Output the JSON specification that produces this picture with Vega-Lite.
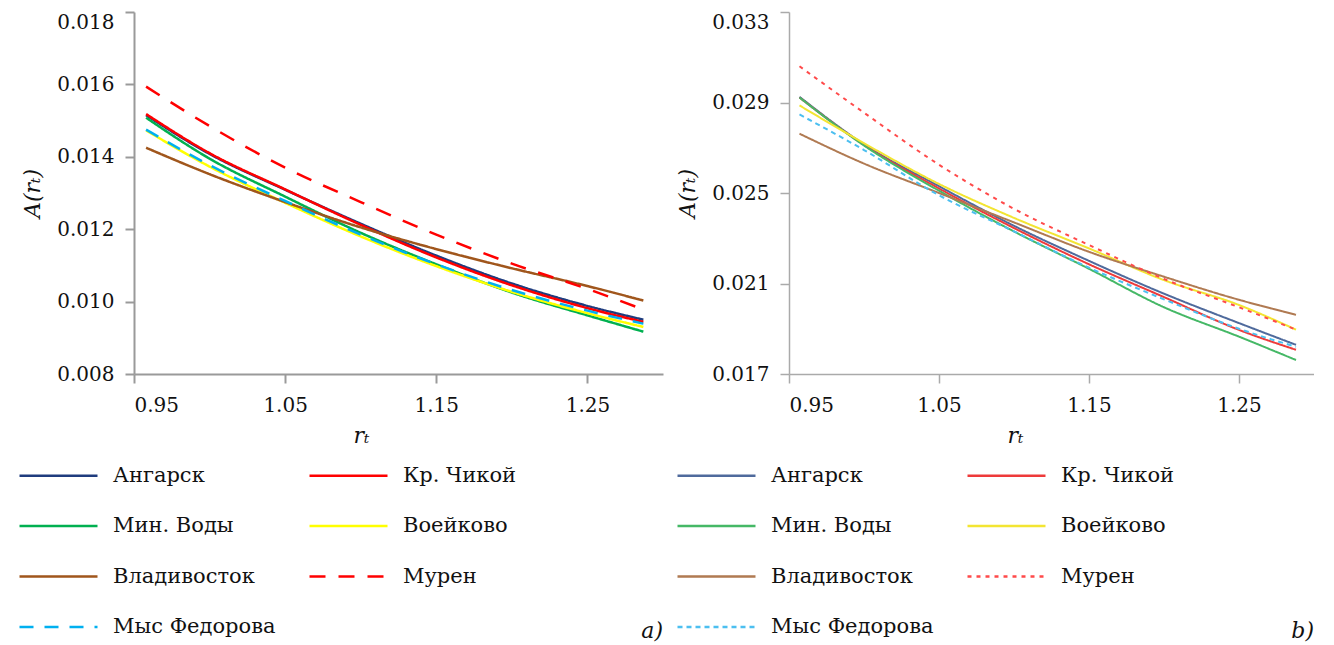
{
  "$schema": "https://vega.github.io/schema/vega-lite/v6.json",
  "background": "white",
  "padding": {"left": 21, "top": 11, "right": 0, "bottom": 0},
  "spacing": 13,
  "config": {
    "view": {"stroke": null},
    "font": "DejaVu Serif",
    "axis": {
      "grid": false,
      "labelFont": "DejaVu Serif",
      "labelFontSize": 20,
      "labelColor": "#111111",
      "titleFont": "DejaVu Serif",
      "titleFontSize": 22,
      "titleFontStyle": "italic",
      "titleFontWeight": "normal",
      "titleColor": "#111111",
      "tickSize": 9,
      "domainColor": "#9a9a9a",
      "tickColor": "#9a9a9a"
    },
    "legend": {
      "labelFont": "DejaVu Serif"
    }
  },
  "datasets": {
    "a": [
      {"station": "Ангарск", "r": 0.958, "A": 0.01515}, {"station": "Ангарск", "r": 1.0, "A": 0.01408}, {"station": "Ангарск", "r": 1.05, "A": 0.01309}, {"station": "Ангарск", "r": 1.1, "A": 0.01215}, {"station": "Ангарск", "r": 1.15, "A": 0.01127}, {"station": "Ангарск", "r": 1.2, "A": 0.0105}, {"station": "Ангарск", "r": 1.25, "A": 0.00988}, {"station": "Ангарск", "r": 1.287, "A": 0.0095},
      {"station": "Кр. Чикой", "r": 0.958, "A": 0.01518}, {"station": "Кр. Чикой", "r": 1.0, "A": 0.0141}, {"station": "Кр. Чикой", "r": 1.05, "A": 0.0131}, {"station": "Кр. Чикой", "r": 1.1, "A": 0.01212}, {"station": "Кр. Чикой", "r": 1.15, "A": 0.01122}, {"station": "Кр. Чикой", "r": 1.2, "A": 0.01045}, {"station": "Кр. Чикой", "r": 1.25, "A": 0.00982}, {"station": "Кр. Чикой", "r": 1.287, "A": 0.00944},
      {"station": "Мин. Воды", "r": 0.958, "A": 0.01508}, {"station": "Мин. Воды", "r": 1.0, "A": 0.01395}, {"station": "Мин. Воды", "r": 1.05, "A": 0.0129}, {"station": "Мин. Воды", "r": 1.1, "A": 0.0119}, {"station": "Мин. Воды", "r": 1.15, "A": 0.01103}, {"station": "Мин. Воды", "r": 1.2, "A": 0.01025}, {"station": "Мин. Воды", "r": 1.25, "A": 0.00962}, {"station": "Мин. Воды", "r": 1.287, "A": 0.00917},
      {"station": "Воейково", "r": 0.958, "A": 0.01473}, {"station": "Воейково", "r": 1.0, "A": 0.01373}, {"station": "Воейково", "r": 1.05, "A": 0.01273}, {"station": "Воейково", "r": 1.1, "A": 0.0118}, {"station": "Воейково", "r": 1.15, "A": 0.01098}, {"station": "Воейково", "r": 1.2, "A": 0.01027}, {"station": "Воейково", "r": 1.25, "A": 0.00968}, {"station": "Воейково", "r": 1.287, "A": 0.0093},
      {"station": "Владивосток", "r": 0.958, "A": 0.01425}, {"station": "Владивосток", "r": 1.0, "A": 0.01352}, {"station": "Владивосток", "r": 1.05, "A": 0.01275}, {"station": "Владивосток", "r": 1.1, "A": 0.01205}, {"station": "Владивосток", "r": 1.15, "A": 0.01145}, {"station": "Владивосток", "r": 1.2, "A": 0.01092}, {"station": "Владивосток", "r": 1.25, "A": 0.01043}, {"station": "Владивосток", "r": 1.287, "A": 0.01003},
      {"station": "Мурен", "r": 0.958, "A": 0.01594}, {"station": "Мурен", "r": 1.0, "A": 0.01485}, {"station": "Мурен", "r": 1.05, "A": 0.0137}, {"station": "Мурен", "r": 1.1, "A": 0.01275}, {"station": "Мурен", "r": 1.15, "A": 0.01185}, {"station": "Мурен", "r": 1.2, "A": 0.01105}, {"station": "Мурен", "r": 1.25, "A": 0.01035}, {"station": "Мурен", "r": 1.287, "A": 0.00978},
      {"station": "Мыс Федорова", "r": 0.958, "A": 0.01475}, {"station": "Мыс Федорова", "r": 1.0, "A": 0.01377}, {"station": "Мыс Федорова", "r": 1.05, "A": 0.01278}, {"station": "Мыс Федорова", "r": 1.1, "A": 0.01185}, {"station": "Мыс Федорова", "r": 1.15, "A": 0.01103}, {"station": "Мыс Федорова", "r": 1.2, "A": 0.01032}, {"station": "Мыс Федорова", "r": 1.25, "A": 0.00975}, {"station": "Мыс Федорова", "r": 1.287, "A": 0.00939}
    ],
    "b": [
      {"station": "Ангарск", "r": 0.957, "A": 0.02925}, {"station": "Ангарск", "r": 1.0, "A": 0.02715}, {"station": "Ангарск", "r": 1.05, "A": 0.0253}, {"station": "Ангарск", "r": 1.1, "A": 0.02355}, {"station": "Ангарск", "r": 1.15, "A": 0.022}, {"station": "Ангарск", "r": 1.2, "A": 0.02055}, {"station": "Ангарск", "r": 1.25, "A": 0.01925}, {"station": "Ангарск", "r": 1.288, "A": 0.01829},
      {"station": "Кр. Чикой", "r": 0.957, "A": 0.02922}, {"station": "Кр. Чикой", "r": 1.0, "A": 0.02712}, {"station": "Кр. Чикой", "r": 1.05, "A": 0.0252}, {"station": "Кр. Чикой", "r": 1.1, "A": 0.02345}, {"station": "Кр. Чикой", "r": 1.15, "A": 0.02185}, {"station": "Кр. Чикой", "r": 1.2, "A": 0.0204}, {"station": "Кр. Чикой", "r": 1.25, "A": 0.01895}, {"station": "Кр. Чикой", "r": 1.288, "A": 0.01807},
      {"station": "Мин. Воды", "r": 0.957, "A": 0.02922}, {"station": "Мин. Воды", "r": 1.0, "A": 0.0271}, {"station": "Мин. Воды", "r": 1.05, "A": 0.0251}, {"station": "Мин. Воды", "r": 1.1, "A": 0.0233}, {"station": "Мин. Воды", "r": 1.15, "A": 0.02165}, {"station": "Мин. Воды", "r": 1.2, "A": 0.01995}, {"station": "Мин. Воды", "r": 1.25, "A": 0.01865}, {"station": "Мин. Воды", "r": 1.288, "A": 0.01762},
      {"station": "Воейково", "r": 0.957, "A": 0.02887}, {"station": "Воейково", "r": 1.0, "A": 0.0272}, {"station": "Воейково", "r": 1.05, "A": 0.0254}, {"station": "Воейково", "r": 1.1, "A": 0.0239}, {"station": "Воейково", "r": 1.15, "A": 0.02255}, {"station": "Воейково", "r": 1.2, "A": 0.02115}, {"station": "Воейково", "r": 1.25, "A": 0.02005}, {"station": "Воейково", "r": 1.288, "A": 0.01896},
      {"station": "Владивосток", "r": 0.957, "A": 0.02762}, {"station": "Владивосток", "r": 1.0, "A": 0.0263}, {"station": "Владивосток", "r": 1.05, "A": 0.025}, {"station": "Владивосток", "r": 1.1, "A": 0.0237}, {"station": "Владивосток", "r": 1.15, "A": 0.0224}, {"station": "Владивосток", "r": 1.2, "A": 0.0213}, {"station": "Владивосток", "r": 1.25, "A": 0.02028}, {"station": "Владивосток", "r": 1.288, "A": 0.01962},
      {"station": "Мурен", "r": 0.957, "A": 0.0306}, {"station": "Мурен", "r": 1.0, "A": 0.02855}, {"station": "Мурен", "r": 1.05, "A": 0.02625}, {"station": "Мурен", "r": 1.1, "A": 0.0243}, {"station": "Мурен", "r": 1.15, "A": 0.0227}, {"station": "Мурен", "r": 1.2, "A": 0.0212}, {"station": "Мурен", "r": 1.25, "A": 0.01995}, {"station": "Мурен", "r": 1.288, "A": 0.01896},
      {"station": "Мыс Федорова", "r": 0.957, "A": 0.02847}, {"station": "Мыс Федорова", "r": 1.0, "A": 0.0269}, {"station": "Мыс Федорова", "r": 1.05, "A": 0.0249}, {"station": "Мыс Федорова", "r": 1.1, "A": 0.0233}, {"station": "Мыс Федорова", "r": 1.15, "A": 0.0217}, {"station": "Мыс Федорова", "r": 1.2, "A": 0.0203}, {"station": "Мыс Федорова", "r": 1.25, "A": 0.019}, {"station": "Мыс Федорова", "r": 1.288, "A": 0.0182}
    ]
  },
  "resolve": {
    "scale": {"x": "independent", "y": "independent", "color": "independent", "strokeDash": "independent"},
    "legend": {"color": "independent", "strokeDash": "independent"}
  },
  "hconcat": [
    {
      "width": 529,
      "height": 362,
      "data": {"name": "a"},
      "title": {"text": "a)", "orient": "bottom", "anchor": "end", "offset": -16, "font": "DejaVu Serif", "fontSize": 22, "fontStyle": "italic", "fontWeight": "normal", "color": "#111111"},
      "mark": {"type": "line", "strokeWidth": 2.5, "interpolate": "monotone"},
      "encoding": {
        "x": {
          "field": "r", "type": "quantitative",
          "scale": {"domain": [0.95, 1.3], "nice": false, "zero": false},
          "axis": {"values": [0.95, 1.05, 1.15, 1.25], "format": ".2f", "labelFlush": true, "labelPadding": 12, "title": "rₜ", "titleX": 227, "titlePadding": 10, "domainWidth": 2, "tickWidth": 2}
        },
        "y": {
          "field": "A", "type": "quantitative",
          "scale": {"domain": [0.008, 0.018], "nice": false, "zero": false},
          "axis": {"values": [0.008, 0.01, 0.012, 0.014, 0.016, 0.018], "format": ".3f", "labelPadding": 11, "labelBaseline": {"condition": {"test": "datum.value > 0.0175", "value": "top"}, "value": "middle"}, "title": "A(rₜ)", "titlePadding": 12, "domainWidth": 2, "tickWidth": 2}
        },
        "color": {
          "field": "station", "type": "nominal",
          "scale": {"domain": ["Ангарск", "Кр. Чикой", "Мин. Воды", "Воейково", "Владивосток", "Мурен", "Мыс Федорова"],
                    "range": ["#1f3c7e", "#ff0000", "#00b050", "#ffff00", "#a0561c", "#ff0000", "#00b0f0"]},
          "legend": {"title": null, "orient": "none", "direction": "horizontal", "legendX": -90, "legendY": 449, "columns": 2, "symbolType": "M-3,0H3", "symbolSize": 676, "symbolStrokeWidth": 2.5, "labelFontSize": 21, "labelColor": "#111111", "labelOffset": 40, "rowPadding": 25.5, "columnPadding": 28, "padding": 0, "labelLimit": 400,
                     "encode": {"symbols": {"update": {"strokeDash": {"signal": "datum.value === 'Мурен' || datum.value === 'Мыс Федорова' ? [13, 12] : [1, 0]"}}}}}
        },
        "strokeDash": {
          "field": "station", "type": "nominal",
          "scale": {"domain": ["Ангарск", "Кр. Чикой", "Мин. Воды", "Воейково", "Владивосток", "Мурен", "Мыс Федорова"],
                    "range": [[1, 0], [1, 0], [1, 0], [1, 0], [1, 0], [16, 13], [14, 11]]},
          "legend": {"title": null, "orient": "none", "direction": "horizontal", "legendX": -90, "legendY": 449, "columns": 2, "symbolType": "M-3,0H3", "symbolSize": 676, "symbolStrokeWidth": 2.5, "labelFontSize": 21, "labelColor": "#111111", "labelOffset": 40, "rowPadding": 25.5, "columnPadding": 28, "padding": 0, "labelLimit": 400,
                     "encode": {"symbols": {"update": {"strokeDash": {"signal": "datum.value === 'Мурен' || datum.value === 'Мыс Федорова' ? [13, 12] : [1, 0]"}}}}}
        }
      }
    },
    {
      "width": 525,
      "height": 362,
      "data": {"name": "b"},
      "title": {"text": "b)", "orient": "bottom", "anchor": "end", "offset": -16, "font": "DejaVu Serif", "fontSize": 22, "fontStyle": "italic", "fontWeight": "normal", "color": "#111111"},
      "mark": {"type": "line", "strokeWidth": 2, "interpolate": "monotone"},
      "encoding": {
        "x": {
          "field": "r", "type": "quantitative",
          "scale": {"domain": [0.95, 1.3], "nice": false, "zero": false},
          "axis": {"values": [0.95, 1.05, 1.15, 1.25], "format": ".2f", "labelFlush": true, "labelPadding": 12, "title": "rₜ", "titleX": 226, "titlePadding": 10, "domainWidth": 1.5, "tickWidth": 1.5, "domainColor": "#aaaaaa", "tickColor": "#aaaaaa"}
        },
        "y": {
          "field": "A", "type": "quantitative",
          "scale": {"domain": [0.017, 0.033], "nice": false, "zero": false},
          "axis": {"values": [0.017, 0.021, 0.025, 0.029, 0.033], "format": ".3f", "labelPadding": 11, "labelBaseline": {"condition": {"test": "datum.value > 0.0325", "value": "top"}, "value": "middle"}, "title": "A(rₜ)", "titlePadding": 12, "domainWidth": 1.5, "tickWidth": 1.5, "domainColor": "#aaaaaa", "tickColor": "#aaaaaa"}
        },
        "color": {
          "field": "station", "type": "nominal",
          "scale": {"domain": ["Ангарск", "Кр. Чикой", "Мин. Воды", "Воейково", "Владивосток", "Мурен", "Мыс Федорова"],
                    "range": ["#4f6a9c", "#ee3a3a", "#45b866", "#f3e532", "#b07a52", "#ff4a4a", "#4cbff0"]},
          "legend": {"title": null, "orient": "none", "direction": "horizontal", "legendX": -87, "legendY": 449, "columns": 2, "symbolType": "M-3,0H3", "symbolSize": 676, "symbolStrokeWidth": 2.5, "labelFontSize": 21, "labelColor": "#111111", "labelOffset": 40, "rowPadding": 25.5, "columnPadding": 28, "padding": 0, "labelLimit": 400,
                     "encode": {"symbols": {"update": {"strokeDash": {"signal": "datum.value === 'Мурен' || datum.value === 'Мыс Федорова' ? [13, 12] : [1, 0]"}}}}}
        },
        "strokeDash": {
          "field": "station", "type": "nominal",
          "scale": {"domain": ["Ангарск", "Кр. Чикой", "Мин. Воды", "Воейково", "Владивосток", "Мурен", "Мыс Федорова"],
                    "range": [[1, 0], [1, 0], [1, 0], [1, 0], [1, 0], [4, 5], [5, 4]]},
          "legend": {"title": null, "orient": "none", "direction": "horizontal", "legendX": -87, "legendY": 449, "columns": 2, "symbolType": "M-3,0H3", "symbolSize": 676, "symbolStrokeWidth": 2.5, "labelFontSize": 21, "labelColor": "#111111", "labelOffset": 40, "rowPadding": 25.5, "columnPadding": 28, "padding": 0, "labelLimit": 400,
                     "encode": {"symbols": {"update": {"strokeDash": {"signal": "datum.value === 'Мурен' || datum.value === 'Мыс Федорова' ? [13, 12] : [1, 0]"}}}}}
        }
      }
    }
  ]
}
